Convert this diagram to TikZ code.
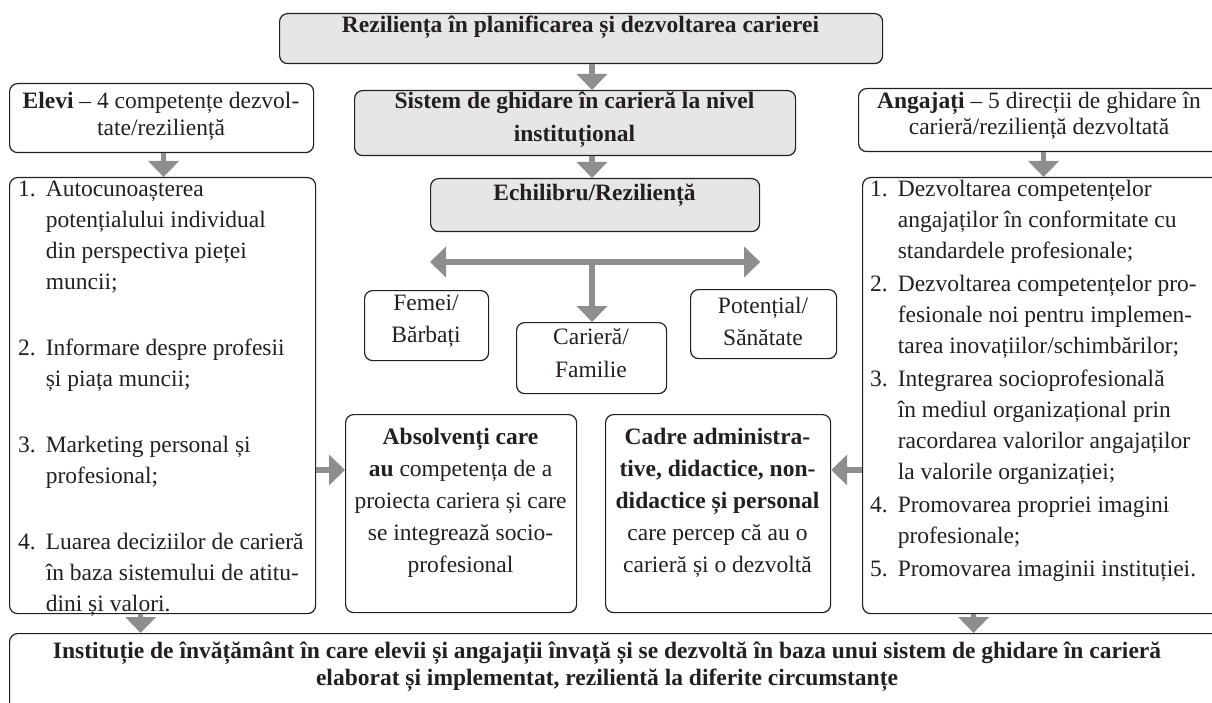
\documentclass[tikz,border=0pt]{standalone}
\usepackage{fontspec}
\setmainfont{Liberation Serif}
\usepackage{tikz}
\usetikzlibrary{arrows.meta,positioning}
\definecolor{inkc}{HTML}{231F20}
\definecolor{boxgray}{HTML}{E6E6E6}
\definecolor{arrgray}{HTML}{8E8E8E}

\begin{document}
\begin{tikzpicture}[x=1pt,y=1pt,yscale=-1,
    box/.style={draw=inkc, line width=1.2pt, rounded corners=8pt, inner sep=0pt, anchor=north west},
    graybox/.style={box, fill=boxgray},
    txt/.style={inner sep=0pt, align=center, text=inkc, font=\fontsize{23.5}{31}\selectfont},
    arr/.style={draw=arrgray, line width=5.5pt, -{Triangle[length=16pt,width=30pt]}},
    twoarr/.style={draw=arrgray, line width=5.5pt, {Triangle[length=16pt,width=30pt]}-{Triangle[length=16pt,width=30pt]}}]
    \useasboundingbox (0,0) rectangle (1212,703);
    \clip (0,0) rectangle (1212,703);

    %Boxes
    \node[graybox, minimum width=603pt, minimum height=50pt] (top) at (279,13) {};
    \node[graybox, minimum width=441pt, minimum height=65pt] (sys) at (354,90) {};
    \node[graybox, minimum width=329pt, minimum height=53pt] (echi) at (430,178) {};
    \node[box, minimum width=304pt, minimum height=69pt] (elevi) at (9,83) {};
    \node[box, minimum width=306pt, minimum height=436pt] (leftlist) at (9,177) {};
    \node[box, minimum width=362pt, minimum height=63pt] (angaj) at (858,88) {};
    \node[box, minimum width=358pt, minimum height=436pt] (rightlist) at (862,177) {};
    \node[box, minimum width=124pt, minimum height=70pt] (femei) at (364,290) {};
    \node[box, minimum width=150pt, minimum height=71pt] (cariera) at (516,322) {};
    \node[box, minimum width=146pt, minimum height=69pt] (potential) at (690,289) {};
    \node[box, minimum width=231pt, minimum height=198pt] (absolv) at (345,414) {};
    \node[box, minimum width=225pt, minimum height=198pt] (cadre) at (605,414) {};
    \node[box, minimum width=1240pt, minimum height=120pt] (bottom) at (9,633) {};

    %Straight Lines
    \coordinate (hub) at (592,262);
    \coordinate (lvl) at (0,470);
    \draw[arr] (top.south -| hub) -- (sys.north -| hub);
    \draw[arr] (sys.south -| hub) -- (echi.north -| hub);
    \draw[twoarr] (echi.west |- hub) -- (echi.east |- hub);
    \draw[arr] (hub) -- (cariera.north -| hub);
    \draw[arr] ([xshift=2pt]elevi.south) -- ([xshift=2pt]elevi.south |- leftlist.north);
    \draw[arr] ([xshift=4pt]angaj.south) -- ([xshift=4pt]angaj.south |- rightlist.north);
    \draw[arr] (leftlist.east |- lvl) -- (absolv.west |- lvl);
    \draw[arr] (rightlist.west |- lvl) -- (cadre.east |- lvl);
    \draw[arr] ([xshift=-22pt]leftlist.south) -- ([xshift=-22pt]leftlist.south |- bottom.north);
    \draw[arr] ([xshift=-68pt]rightlist.south) -- ([xshift=-68pt]rightlist.south |- bottom.north);

    % Text Node
    \node[txt] (ttop) at (580.5,27) {\textbf{Reziliența în planificarea și dezvoltarea carierei}};
    % Text Node
    \node[txt, font=\fontsize{23.5}{33}\selectfont] (tsys) at (574.5,119.5) {\textbf{Sistem de ghidare în carieră la nivel}\\\textbf{instituțional}};
    % Text Node
    \node[txt] (techi) at (594.5,195) {\textbf{Echilibru/Reziliență}};
    % Text Node
    \node[txt, font=\fontsize{23.5}{26.5}\selectfont] (televi) at (161,116.5) {\textbf{Elevi} – 4 competențe dezvol-\\tate/reziliență};
    % Text Node
    \node[txt, font=\fontsize{23.5}{26}\selectfont] (tangaj) at (1039,115.5) {\textbf{Angajați} – 5 direcții de ghidare în\\carieră/reziliență dezvoltată};
    % Text Node
    \node[txt, font=\fontsize{23.5}{32}\selectfont] (tfemei) at (426,321) {Femei/\\Bărbați};
    % Text Node
    \node[txt, font=\fontsize{23.5}{33}\selectfont] (tcariera) at (591,353.5) {Carieră/\\Familie};
    % Text Node
    \node[txt, font=\fontsize{23.5}{32}\selectfont] (tpot) at (763,321) {Potențial/\\Sănătate};
    % Text Node
    \node[txt, font=\fontsize{23.5}{32}\selectfont] (tabsolv) at (460.5,503) {\textbf{Absolvenți care}\\\textbf{au} competența de a\\proiecta cariera și care\\se integrează socio-\\profesional};
    % Text Node
    \node[txt, font=\fontsize{23.5}{32}\selectfont] (tcadre) at (717.5,503) {\textbf{Cadre administra-}\\\textbf{tive, didactice, non-}\\\textbf{didactice și personal}\\care percep că au o\\carieră și o dezvoltă};
    % Text Node
    \node[txt, anchor=west] (tleft) at (18,397.5) {\begin{tabular}{@{}l@{\hspace{10pt}}l@{}}
    1. & Autocunoașterea\\
       & potențialului individual\\
       & din perspectiva pieței\\
       & muncii;\\[35pt]
    2. & Informare despre profesii\\
       & și piața muncii;\\[35pt]
    3. & Marketing personal și\\
       & profesional;\\[35pt]
    4. & Luarea deciziilor de carieră\\
       & în baza sistemului de atitu-\\
       & dini și valori.
    \end{tabular}};
    % Text Node
    \node[txt, anchor=west] (tright) at (870,380) {\begin{tabular}{@{}l@{\hspace{10pt}}l@{}}
    1. & Dezvoltarea competențelor\\
       & angajaților în conformitate cu\\
       & standardele profesionale;\\[2pt]
    2. & Dezvoltarea competențelor pro-\\
       & fesionale noi pentru implemen-\\
       & tarea inovațiilor/schimbărilor;\\[2pt]
    3. & Integrarea socioprofesională\\
       & în mediul organizațional prin\\
       & racordarea valorilor angajaților\\
       & la valorile organizației;\\[2pt]
    4. & Promovarea propriei imagini\\
       & profesionale;\\[2pt]
    5. & Promovarea imaginii instituției.
    \end{tabular}};
    % Text Node
    \node[txt, font=\fontsize{23.5}{27}\selectfont] (tbottom) at (607,666.5) {\textbf{Instituție de învățământ în care elevii și angajații învață și se dezvoltă în baza unui sistem de ghidare în carieră}\\\textbf{elaborat și implementat, rezilientă la diferite circumstanțe}};

\end{tikzpicture}
\end{document}
